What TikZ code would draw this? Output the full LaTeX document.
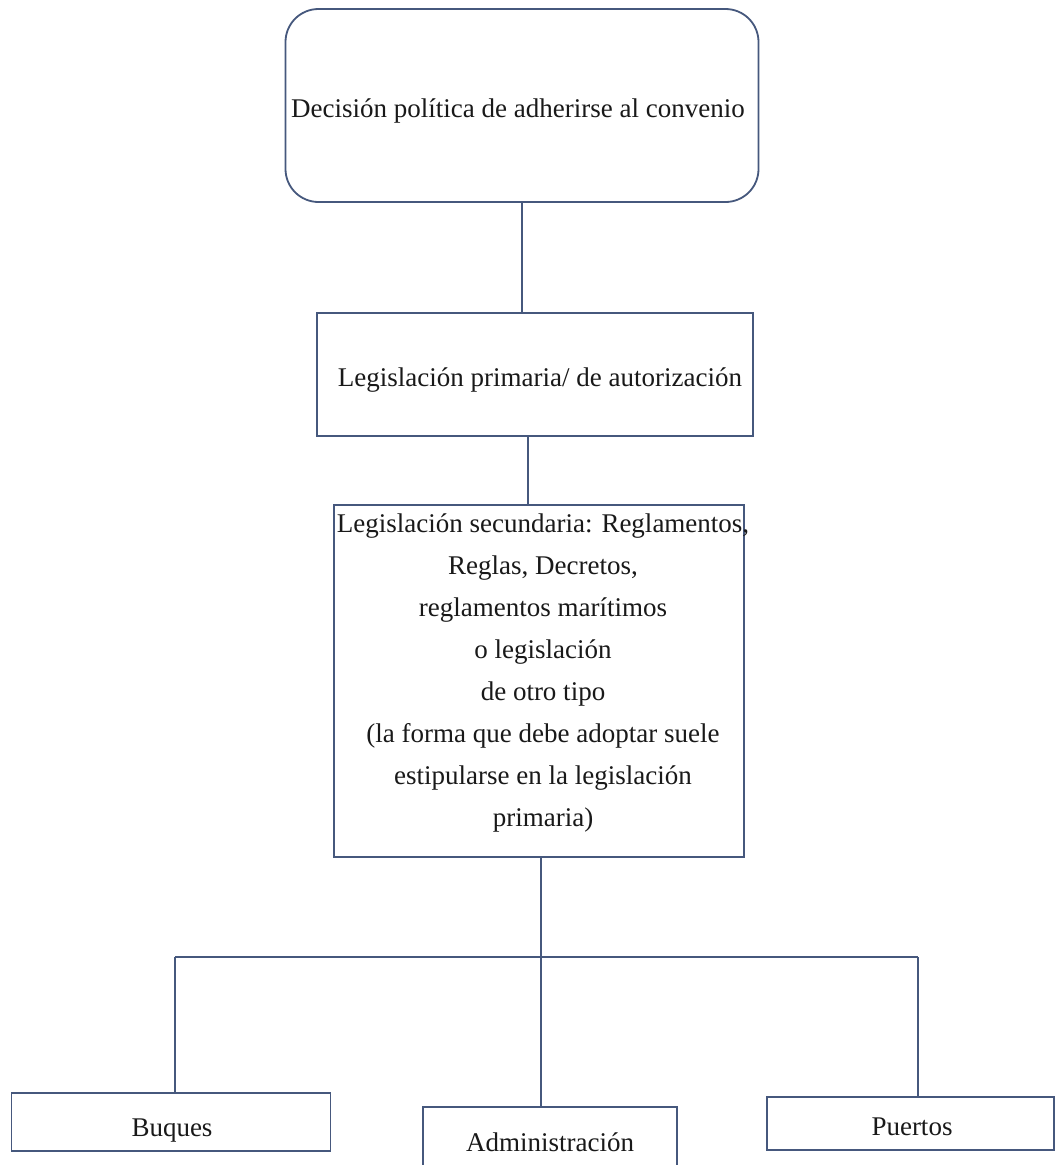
\documentclass[tikz,border=0pt]{standalone}
\usepackage{fontspec}
\setmainfont{Liberation Serif}
\definecolor{edge}{RGB}{70,88,125}
\definecolor{ink}{RGB}{25,25,25}
\begin{document}
\begin{tikzpicture}[x=1pt,y=-1pt,
  box/.style={draw=edge, line width=1.8pt, fill=white, inner sep=0pt},
  lbl/.style={text=ink, font=\fontsize{27}{42}\selectfont, align=center, inner sep=0pt},
  link/.style={draw=edge, line width=1.8pt}]
\clip (0,0) rectangle (1056,1165);
\fill[white] (0,0) rectangle (1056,1165);
% boxes
\node[box, rounded corners=33pt, minimum width=473pt, minimum height=193pt] (top) at (522,105.5) {};
\node[lbl] (toptext) at (518,110.5) {Decisión política de adherirse al convenio};
\node[box, minimum width=436pt, minimum height=123pt] (prim) at (535,374.5) {};
\node[lbl] (primtext) at (540,380.5) {Legislación primaria/ de autorización};
\node[box, minimum width=410pt, minimum height=352pt] (sec) at (539,681) {};
\node[lbl] (sectext) at (543,673) {Legislación secundaria: Reglamentos,\\Reglas, Decretos,\\reglamentos marítimos\\o legislación\\de otro tipo\\(la forma que debe adoptar suele\\estipularse en la legislación\\primaria)};
\node[box, minimum width=319pt, minimum height=58pt] (buq) at (171,1122) {};
\node[lbl] (buqtext) at (172,1130.5) {Buques};
\node[box, minimum width=254pt, minimum height=68pt] (adm) at (550,1141) {};
\node[lbl] (admtext) at (550,1142) {Administración};
\node[box, minimum width=287pt, minimum height=53pt] (pue) at (910.5,1123.5) {};
\node[lbl] (puetext) at (912,1126.5) {Puertos};
% connectors
\draw[link] (top.south) -- (top.south |- prim.north);
\draw[link] ([xshift=-7pt]prim.south) -- ([xshift=-7pt]prim.south |- sec.north);
\coordinate (j) at (541,957);
\coordinate (jl) at (175,957);
\coordinate (jr) at (918,957);
\draw[link] (sec.south -| j) -- (j);
\draw[link] (jl) -- (jr);
\draw[link] (jl) -- (jl |- buq.north);
\draw[link] (j) -- (j |- adm.north);
\draw[link] (jr) -- (jr |- pue.north);
\end{tikzpicture}
\end{document}
